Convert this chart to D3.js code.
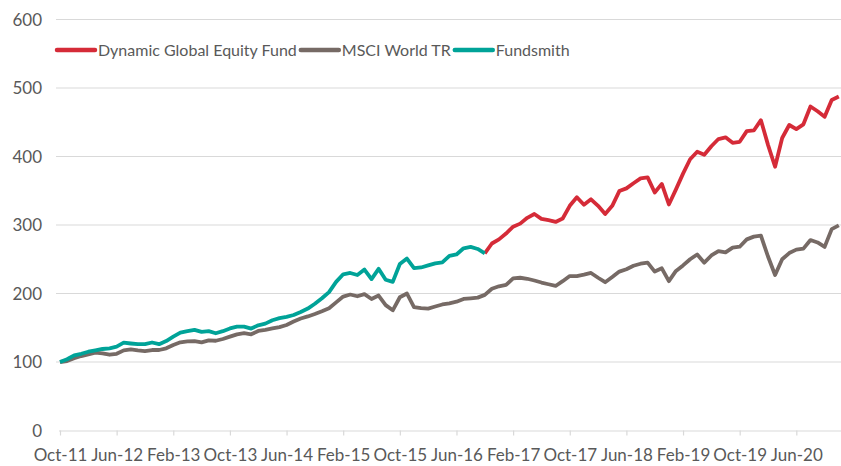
<!DOCTYPE html>
<html>
<head>
<meta charset="utf-8">
<script src="https://cdn.jsdelivr.net/npm/d3@7"></script>
<style>
  html, body { margin: 0; padding: 0; background: #ffffff; }
  svg { display: block; }
  text { font-family: "Lato", "Open Sans", sans-serif; fill: #595959; }
</style>
</head>
<body>
<svg id="chart" width="841" height="466"></svg>
<script>
// ---- Data ----
const startMonth = new Date(2011, 9, 1);   // Oct-11
const endMonth = new Date(2021, 0, 1);     // exclusive -> last is Dec-20
const months = d3.timeMonth.range(startMonth, endMonth).map(d3.timeFormat("%b-%y"));

const tickLabels = ["Oct-11","Jun-12","Feb-13","Oct-13","Jun-14","Feb-15","Oct-15",
                    "Jun-16","Feb-17","Oct-17","Jun-18","Feb-19","Oct-19","Jun-20"];
const yTicks = [0, 100, 200, 300, 400, 500, 600];

const seriesNames = ["Dynamic Global Equity Fund", "MSCI World TR", "Fundsmith"];

// Fundsmith: Oct-11 .. Oct-16
const fundsmith = [100,104,109.6,112,115,117,119,120,122.4,128.2,127,126,126,128.5,126,130.6,137,142.8,145,147,144,145,142,145,149,151.7,151.7,148.8,153.6,156,
  161,164,166,168.6,173,178,185,193,202,217,228,230,227,235,221,236,220,217,243,251,237,238,241,244,245.5,255,257,266,268,265,258.7];

// MSCI World TR: Oct-11 .. Dec-20
const msci = [100,101.4,105.4,108.7,111,113.6,112.6,110.6,112,117,118.5,117,116,117.5,117.5,120,124.8,128.7,130,130.6,128.7,131.6,131,133.6,137,140.4,142,140.4,145.3,146.8,
  149,151,154,159,163.5,166.5,170,174,178.5,187,195.5,198.5,196,199,192,197,183,175.5,194.5,200,180,178.5,178,181,184,185.6,188,192,193,194,198,
  207,210.5,212.5,222,223,221.5,219,216,213.5,211,218,225.5,225.5,227.5,230,223,216.5,224,232,235.5,240.5,243.5,245,232,236.8,218,233,241,250,257,
  245,255.5,262,260,267,268.3,279,283,284.5,254,227,250,259,264,265.5,278,274.5,268,294,299.5];

// Dynamic Global Equity Fund: Oct-16 .. Dec-20
const dynamicStart = "Oct-16";
const dynamic = [258.7,273,279,287.5,297.5,302,310.5,316,309,307,304.5,309.5,328,340.5,329.5,337.5,328,316,328,349.5,353.5,361,368,369.5,347.5,360,330,352,375,396,
  407,402.5,415,425.5,428,420,421.5,437,438,453,417,385,427,446,440,447,473,466,458,482.5,487.5];

const colors = { dynamic: "#D52B38", msci: "#766A65", fundsmith: "#00A398" };

// ---- Chart ----
const svg = d3.select("#chart");
const x = d3.scalePoint().domain(months).range([60, 838.8]);
const y = d3.scaleLinear().domain([0, 600]).range([430.5, 19.5]);

// gridlines
svg.append("g").selectAll("line")
  .data(yTicks.filter(t => t > 0))
  .join("line")
  .attr("x1", 56).attr("x2", 841)
  .attr("y1", d => y(d)).attr("y2", d => y(d))
  .attr("stroke", "#d9d9d9").attr("stroke-width", 1.2);

// y labels
svg.append("g").selectAll("text")
  .data(yTicks)
  .join("text")
  .attr("x", 42).attr("y", d => y(d) + 6)
  .attr("text-anchor", "end")
  .style("font-size", "17px")
  .text(d => d);

// x axis
const xAxis = d3.axisBottom(x)
  .tickValues(tickLabels)
  .tickSize(5)
  .tickSizeOuter(0);
const gx = svg.append("g").attr("transform", `translate(0,${y(0)})`).call(xAxis);
gx.select(".domain").attr("stroke", "#d9d9d9").attr("stroke-width", 1.2)
  .attr("d", `M59,0.5H841`);
gx.selectAll(".tick line").attr("stroke", "#d9d9d9").attr("stroke-width", 1.2);
gx.selectAll(".tick text")
  .attr("y", 30)
  .attr("dy", 0)
  .style("font-size", "17px")
  .style("font-family", "Lato, sans-serif")
  .attr("fill", "#595959");

// lines
const line = d3.line().x(d => x(d.m)).y(d => y(d.v));
const mk = (arr, offset) => arr.map((v, i) => ({ m: months[offset + i], v }));

svg.append("path").datum(mk(msci, 0)).attr("d", line)
  .attr("fill", "none").attr("stroke", colors.msci).attr("stroke-width", 3.8)
  .attr("stroke-linejoin", "round");
svg.append("path").datum(mk(dynamic, months.indexOf(dynamicStart))).attr("d", line)
  .attr("fill", "none").attr("stroke", colors.dynamic).attr("stroke-width", 3.8)
  .attr("stroke-linejoin", "round");
svg.append("path").datum(mk(fundsmith, 0)).attr("d", line)
  .attr("fill", "none").attr("stroke", colors.fundsmith).attr("stroke-width", 3.8)
  .attr("stroke-linejoin", "round");

// legend
const legend = svg.append("g");
const legendColors = [colors.dynamic, colors.msci, colors.fundsmith];
let lx = 57;
const ly = 50;
seriesNames.forEach((name, i) => {
  legend.append("line")
    .attr("x1", lx).attr("x2", lx + 38)
    .attr("y1", ly).attr("y2", ly)
    .attr("stroke", legendColors[i]).attr("stroke-width", 4.5)
    .attr("stroke-linecap", "round");
  const t = legend.append("text")
    .attr("x", lx + 41).attr("y", ly + 6)
    .style("font-size", "16px")
    .text(name);
  lx = lx + 41 + t.node().getComputedTextLength() + 4;
});
</script>
</body>
</html>
